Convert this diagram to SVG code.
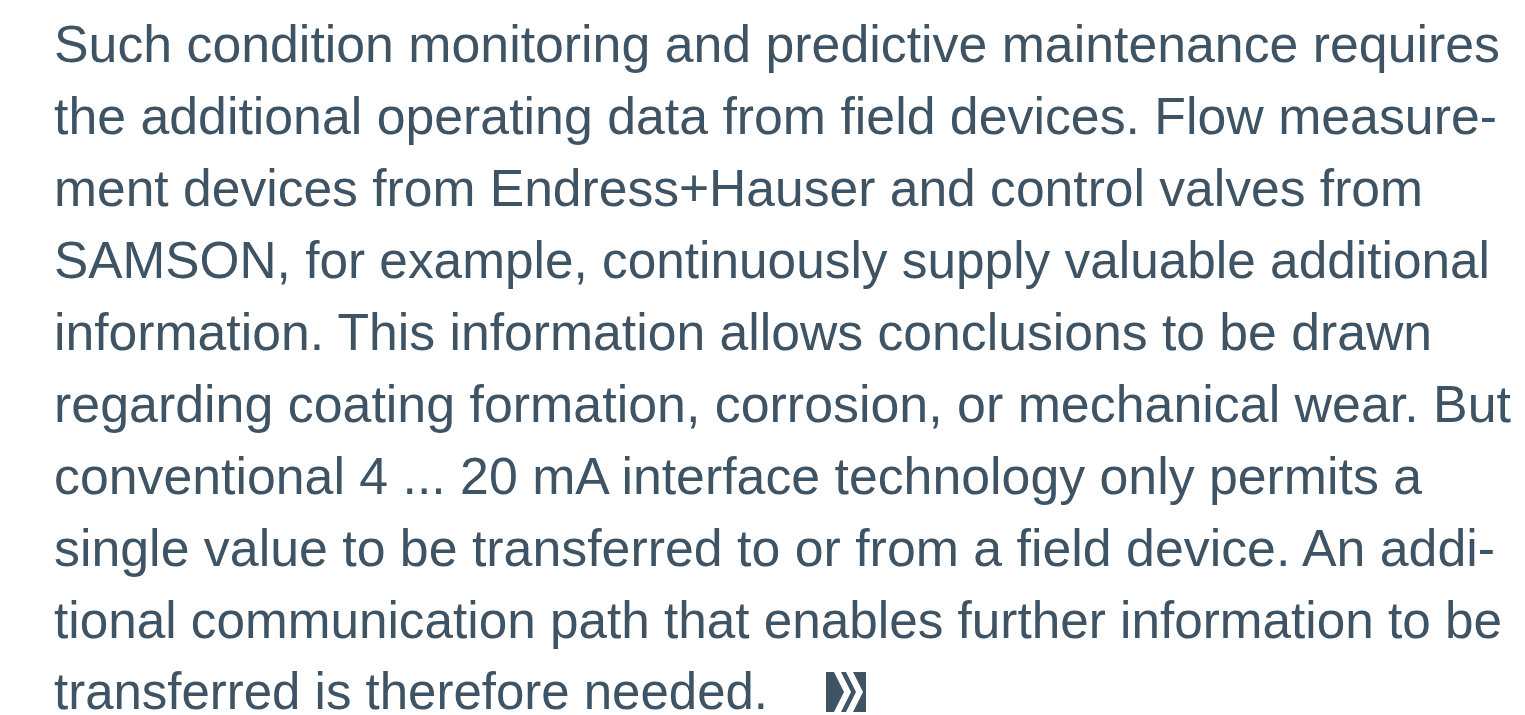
<svg xmlns="http://www.w3.org/2000/svg" width="1525" height="715" viewBox="0 0 1525 715">
<style>
.t{font-family:"Liberation Sans",Arial,sans-serif;font-size:52px;fill:#3e5364}
</style>
<rect width="1525" height="715" fill="#ffffff"/>
<g id="paragraph">
<text class="t" x="54" y="62" textLength="1446" lengthAdjust="spacingAndGlyphs">Such condition monitoring and predictive maintenance requires</text>
<text class="t" x="54" y="134" textLength="1443" lengthAdjust="spacingAndGlyphs">the additional operating data from field devices. Flow measure-</text>
<text class="t" x="54" y="206" textLength="1369" lengthAdjust="spacingAndGlyphs">ment devices from Endress+Hauser and control valves from</text>
<text class="t" x="54" y="278" textLength="1436" lengthAdjust="spacingAndGlyphs">SAMSON, for example, continuously supply valuable additional</text>
<text class="t" x="54" y="350" textLength="1378" lengthAdjust="spacingAndGlyphs">information. This information allows conclusions to be drawn</text>
<text class="t" x="54" y="422" textLength="1457" lengthAdjust="spacingAndGlyphs">regarding coating formation, corrosion, or mechanical wear. But</text>
<text class="t" x="54" y="494" textLength="1368" lengthAdjust="spacingAndGlyphs">conventional 4 ... 20 mA interface technology only permits a</text>
<text class="t" x="54" y="566" textLength="1441" lengthAdjust="spacingAndGlyphs">single value to be transferred to or from a field device. An addi-</text>
<text class="t" x="54" y="638" textLength="1448" lengthAdjust="spacingAndGlyphs">tional communication path that enables further information to be</text>
<text class="t" x="54" y="709" textLength="714" lengthAdjust="spacingAndGlyphs">transferred is therefore needed.</text>
</g>
<g id="more-icon">
<rect x="826" y="672" width="40" height="40" fill="#3e5364"/>
<polygon points="834,672 841,672 851,692 841,712 834,712 844,692" fill="#ffffff"/>
<polygon points="846,672 853,672 863,692 853,712 846,712 856,692" fill="#ffffff"/>
</g>
</svg>
